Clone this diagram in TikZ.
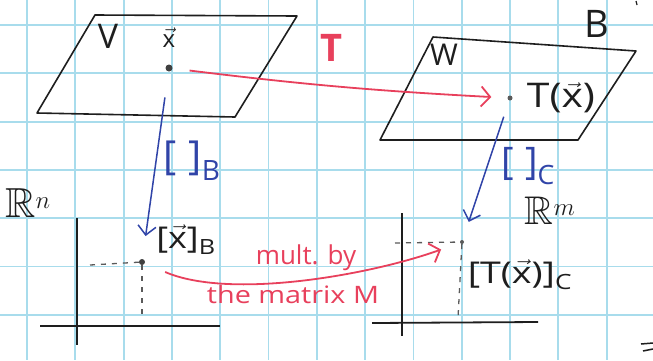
\documentclass[tikz,border=0pt]{standalone}
\usepackage{amsmath,amssymb}
\usepackage{fontspec}
\setmainfont{Open Sans}
\usetikzlibrary{arrows.meta}
\definecolor{gridc}{RGB}{168,220,236}
\definecolor{pred}{RGB}{232,64,92}
\definecolor{pblue}{RGB}{48,68,168}
\definecolor{ink}{RGB}{30,30,30}
\definecolor{guide}{RGB}{90,90,90}
\newcommand{\vx}{\ensuremath{\vec{\text{x}}}}
\tikzset{
  gridline/.style={gridc, line width=1.8pt},
  plane/.style={ink, line width=1.6pt, line join=round},
  axis/.style={ink, line width=1.8pt},
  guideline/.style={guide, line width=1.3pt, dash pattern=on 5pt off 6pt},
  pdot/.style={circle, fill=ink!85, inner sep=0pt, minimum size=7pt},
  sdot/.style={circle, fill=guide, inner sep=0pt, minimum size=5pt},
  redarrow/.style={pred, line width=1.8pt, -{Straight Barb[length=9pt,width=20pt,line width=1.8pt]}},
  bluearrow/.style={pblue, line width=1.5pt, -{Straight Barb[length=9pt,width=18pt,line width=1.5pt]}},
  lbl/.style={inner sep=0pt, text=ink},
}
\begin{document}
\begin{tikzpicture}[x=1pt,y=-1pt]
\useasboundingbox (0,0) rectangle (653,360);
\fill[white] (0,0) rectangle (653,360);
% grid paper
\foreach \i in {0,...,13} \draw[gridline] ({27+48.3*\i},0) -- ({27+48.3*\i},360);
\foreach \j in {0,...,7} \draw[gridline] (0,{25+48.3*\j}) -- (653,{25+48.3*\j});

% planes
\draw[plane] (95,15) -- (297,16) -- (235,117) -- (37,113) -- cycle;
\draw[plane] (433,37) -- (636,51) -- (578,140) -- (380,140) -- cycle;

% axes
\draw[axis] (77,218) -- (77,345);
\draw[axis] (40,326) -- (220,326);
\draw[axis] (402,213) -- (402,336);
\draw[axis] (372,323) -- (538,322);

% points
\node[pdot] (px) at (169,68) {};
\node[sdot] (ptx) at (510,98) {};
\node[pdot, minimum size=6pt] (pxb) at (142,262) {};
\node[sdot, minimum size=4pt] (ptc) at (462,242) {};

% guides
\coordinate (gl1) at (90,265);
\coordinate (gl2) at (142,320);
\coordinate (gr1) at (395,243);
\coordinate (gr2) at (458,318);
\draw[guideline] (gl1) -- (pxb);
\draw[guideline] (pxb) -- (gl2);
\draw[guideline] (gr1) -- (ptc);
\draw[guideline] (ptc) -- (gr2);

% labels
\node[lbl, font=\fontsize{34}{36}\selectfont] (lV) at (108,36) {V};
\node[lbl, font=\fontsize{24}{26}\selectfont] (lx) at (169,38) {\vx};
\node[lbl, font=\fontsize{30}{32}\selectfont] (lW) at (444,55) {W};
\node[lbl, font=\fontsize{38}{40}\selectfont] (lB) at (597,24) {B};
\node[lbl, font=\fontsize{34}{36}\selectfont, xscale=1.2] (lTx) at (561,98) {T(\vx)};
\node[lbl, font=\fontsize{42}{44}\selectfont] (lRn) at (28,203) {$\mathbb{R}^{n}$};
\node[lbl, font=\fontsize{40}{42}\selectfont] (lRm) at (550,211) {$\mathbb{R}^{m}$};
\node[lbl, font=\fontsize{30}{32}\selectfont, xscale=1.2] (lxb) at (186,240) {[\vx]\textsubscript{B}};
\node[lbl, font=\fontsize{30}{32}\selectfont, xscale=1.25] (ltc) at (520,275) {[T(\vx)]\textsubscript{C}};
\node[lbl, text=pred, font=\fontsize{38}{40}\selectfont\bfseries] (lT) at (331,48) {T};
\node[lbl, text=pred, font=\fontsize{26}{28}\selectfont] (lmult) at (306,258) {mult. by};
\node[lbl, text=pred, font=\fontsize{24}{26}\selectfont, xscale=1.2] (lmat) at (293,294) {the matrix M};
\node[lbl, text=pblue, font=\fontsize{40}{42}\selectfont] (lcb) at (192,161) {[\hspace{0.3em}]\textsubscript{B}};
\node[lbl, text=pblue, font=\fontsize{38}{40}\selectfont] (lcc) at (528,166) {[\hspace{0.3em}]\textsubscript{C}};

% arrows
\draw[redarrow, shorten <=17pt, shorten >=16pt] (px) to[bend right=2] (ptx);
\draw[bluearrow, shorten <=26pt, shorten >=23pt] (px) -- (pxb);
\draw[bluearrow, shorten <=17pt, shorten >=19pt] (ptx) -- (ptc);
\draw[redarrow, shorten <=22pt, shorten >=20pt] (pxb) .. controls (230,300) and (370,275) .. (ptc);

% stray pen marks
\draw[ink, line width=1.2pt] (636,1) -- (637,5);
\draw[ink, line width=1.5pt] (641,344) -- (653,343);
\draw[ink, line width=1.5pt] (643,351) -- (653,349);
\end{tikzpicture}
\end{document}
